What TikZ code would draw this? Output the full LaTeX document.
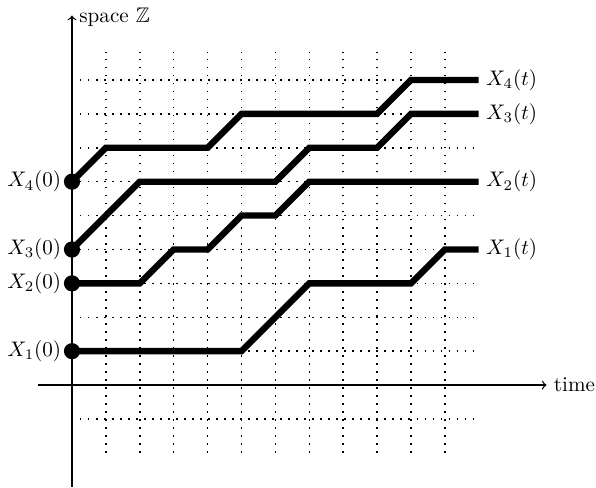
\documentclass[tikz,border=0pt]{standalone}
\usepackage{amssymb}
\begin{document}
\begin{tikzpicture}[x=0.565cm,y=0.565cm,
  gridline/.style={line width=0.7pt,dash pattern=on 0.7pt off 3.1pt},
  axis/.style={line width=0.6pt,->},
  traj/.style={line width=3pt},
  startdot/.style={circle,fill=black,inner sep=0pt,minimum size=0.27cm},
  lbl/.style={inner sep=3.33pt}]
\useasboundingbox (-2.124,-3.01) rectangle (15.46,11.36);
% grid
\foreach \y in {-1,...,9} \draw[gridline] (0,\y) -- (11.86,\y);
\foreach \x in {1,...,11} \draw[gridline] (\x,-2) -- (\x,9.82);
% axes
\coordinate (xs) at (-1,0);
\coordinate (xe) at (14,0);
\coordinate (ys) at (0,-3);
\coordinate (ye) at (0,10.9);
\draw[axis] (xs) -- (xe);
\draw[axis] (ys) -- (ye);
\node[lbl,right] (tl) at (xe) {time};
\node[lbl,right] (sl) at ([yshift=-1pt]ye) {space $\mathbb{Z}$};
% trajectories
\draw[traj] (0,1) -- (5,1) -- (7,3) -- (10,3) -- (11,4) -- (12,4) coordinate (e1);
\draw[traj] (0,3) -- (2,3) -- (3,4) -- (4,4) -- (5,5) -- (6,5) -- (7,6) -- (12,6) coordinate (e2);
\draw[traj] (0,4) -- (2,6) -- (6,6) -- (7,7) -- (9,7) -- (10,8) -- (12,8) coordinate (e3);
\draw[traj] (0,6) -- (1,7) -- (4,7) -- (5,8) -- (9,8) -- (10,9) -- (12,9) coordinate (e4);
% start dots
\node[startdot] (s1) at (0,1) {};
\node[startdot] (s2) at (0,3) {};
\node[startdot] (s3) at (0,4) {};
\node[startdot] (s4) at (0,6) {};
\node[lbl,anchor=east] (l1) at (-0.1,1) {$X_1(0)$};
\node[lbl,anchor=east] (l2) at (-0.1,3) {$X_2(0)$};
\node[lbl,anchor=east] (l3) at (-0.1,4) {$X_3(0)$};
\node[lbl,anchor=east] (l4) at (-0.1,6) {$X_4(0)$};
\node[lbl,right] (r1) at (e1) {$X_1(t)$};
\node[lbl,right] (r2) at (e2) {$X_2(t)$};
\node[lbl,right] (r3) at (e3) {$X_3(t)$};
\node[lbl,right] (r4) at (e4) {$X_4(t)$};
\end{tikzpicture}
\end{document}
